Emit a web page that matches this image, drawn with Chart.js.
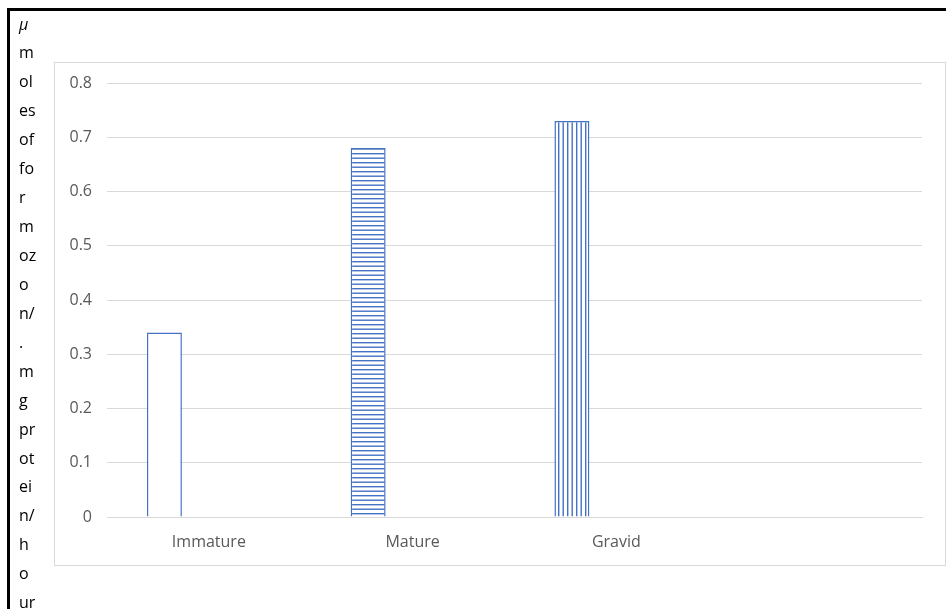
<!DOCTYPE html>
<html>
<head>
<meta charset="utf-8">
<script src="https://cdn.jsdelivr.net/npm/chart.js@4"></script>
<style>
  html, body { margin: 0; padding: 0; background: #fff; overflow: hidden; }
  #outer { position: absolute; left: 7px; top: 8px; width: 2000px; height: 2000px;
           border-left: 3px solid #000; border-top: 3px solid #000; }
  #frame { position: absolute; left: 54px; top: 62px; width: 890px; height: 502px;
           border: 1px solid #d9d9d9; }
  #wrap { position: absolute; left: 0; top: 0; width: 946px; height: 609px; }
</style>
</head>
<body>
<div id="outer"></div>
<div id="frame"></div>
<div id="wrap"><canvas id="c" width="946" height="609"></canvas></div>
<script>
// Stages and measured activity
const categories = ['Immature', 'Mature', 'Gravid', ''];
const activity = [0.34, 0.68, 0.73, null];
const emptySeries = [null, null, null, null];

// Y axis range
const yMin = 0;
const yMax = 0.8;
const yStep = 0.1;

// Axis title, wrapped into a narrow column
const yTitleLines = ['μ', 'm', 'ol', 'es', 'of', 'fo', 'r', 'm', 'oz', 'o', 'n/', '.',
                     'm', 'g', 'pr', 'ot', 'ei', 'n/', 'h', 'o', 'ur'];

const BLUE = '#4472C4';
const FONT = '"Open Sans", sans-serif';

function stripePattern(ctx, vertical) {
  const t = document.createElement('canvas');
  t.width = 9; t.height = 9;
  const g = t.getContext('2d');
  g.fillStyle = '#fff';
  g.fillRect(0, 0, 9, 9);
  g.fillStyle = BLUE;
  if (vertical) { g.fillRect(0, 0, 1.4, 9); g.fillRect(4.5, 0, 1.4, 9); }
  else { g.fillRect(0, 0, 9, 1.4); g.fillRect(0, 4.5, 9, 1.4); }
  return ctx.createPattern(t, 'repeat');
}

const canvas = document.getElementById('c');
const ctx = canvas.getContext('2d');
const fills = ['#ffffff', stripePattern(ctx, false), stripePattern(ctx, true), '#ffffff'];

// Draws the wrapped y-axis title as a column of short lines
const yTitlePlugin = {
  id: 'yTitleColumn',
  afterDraw(chart) {
    const c = chart.ctx;
    c.save();
    c.fillStyle = '#000';
    c.textAlign = 'left';
    c.textBaseline = 'middle';
    yTitleLines.forEach((s, i) => {
      c.font = (i === 0 ? 'italic ' : '') + '16px ' + FONT;
      c.fillText(s, 19, 25 + i * 28.93);
    });
    c.restore();
  }
};

new Chart(ctx, {
  type: 'bar',
  data: {
    labels: categories,
    datasets: [
      {
        data: activity,
        backgroundColor: fills,
        borderColor: BLUE,
        borderWidth: 1.5,
        categoryPercentage: 0.873,
        barPercentage: 0.393
      },
      {
        data: emptySeries,
        backgroundColor: '#fff',
        borderColor: BLUE,
        borderWidth: 1.5,
        categoryPercentage: 0.873,
        barPercentage: 0.393
      }
    ]
  },
  options: {
    responsive: false,
    animation: false,
    layout: { padding: { left: 54, right: 24, top: 83, bottom: 52 } },
    plugins: {
      legend: { display: false },
      tooltip: { enabled: false }
    },
    scales: {
      x: {
        grid: { display: false, drawTicks: false },
        border: { display: true, color: '#d9d9d9', width: 1 },
        ticks: { color: '#595959', font: { family: FONT, size: 16 }, padding: 16, maxRotation: 0 },
        afterFit(scale) { scale.height = 40; }
      },
      y: {
        min: yMin,
        max: yMax,
        grid: { color: '#d9d9d9', lineWidth: 1, drawTicks: false },
        border: { display: false },
        ticks: { stepSize: yStep, color: '#595959', font: { family: FONT, size: 16 }, padding: 15 },
        afterFit(scale) { scale.width = 53; }
      }
    }
  },
  plugins: [yTitlePlugin]
});
</script>
</body>
</html>
